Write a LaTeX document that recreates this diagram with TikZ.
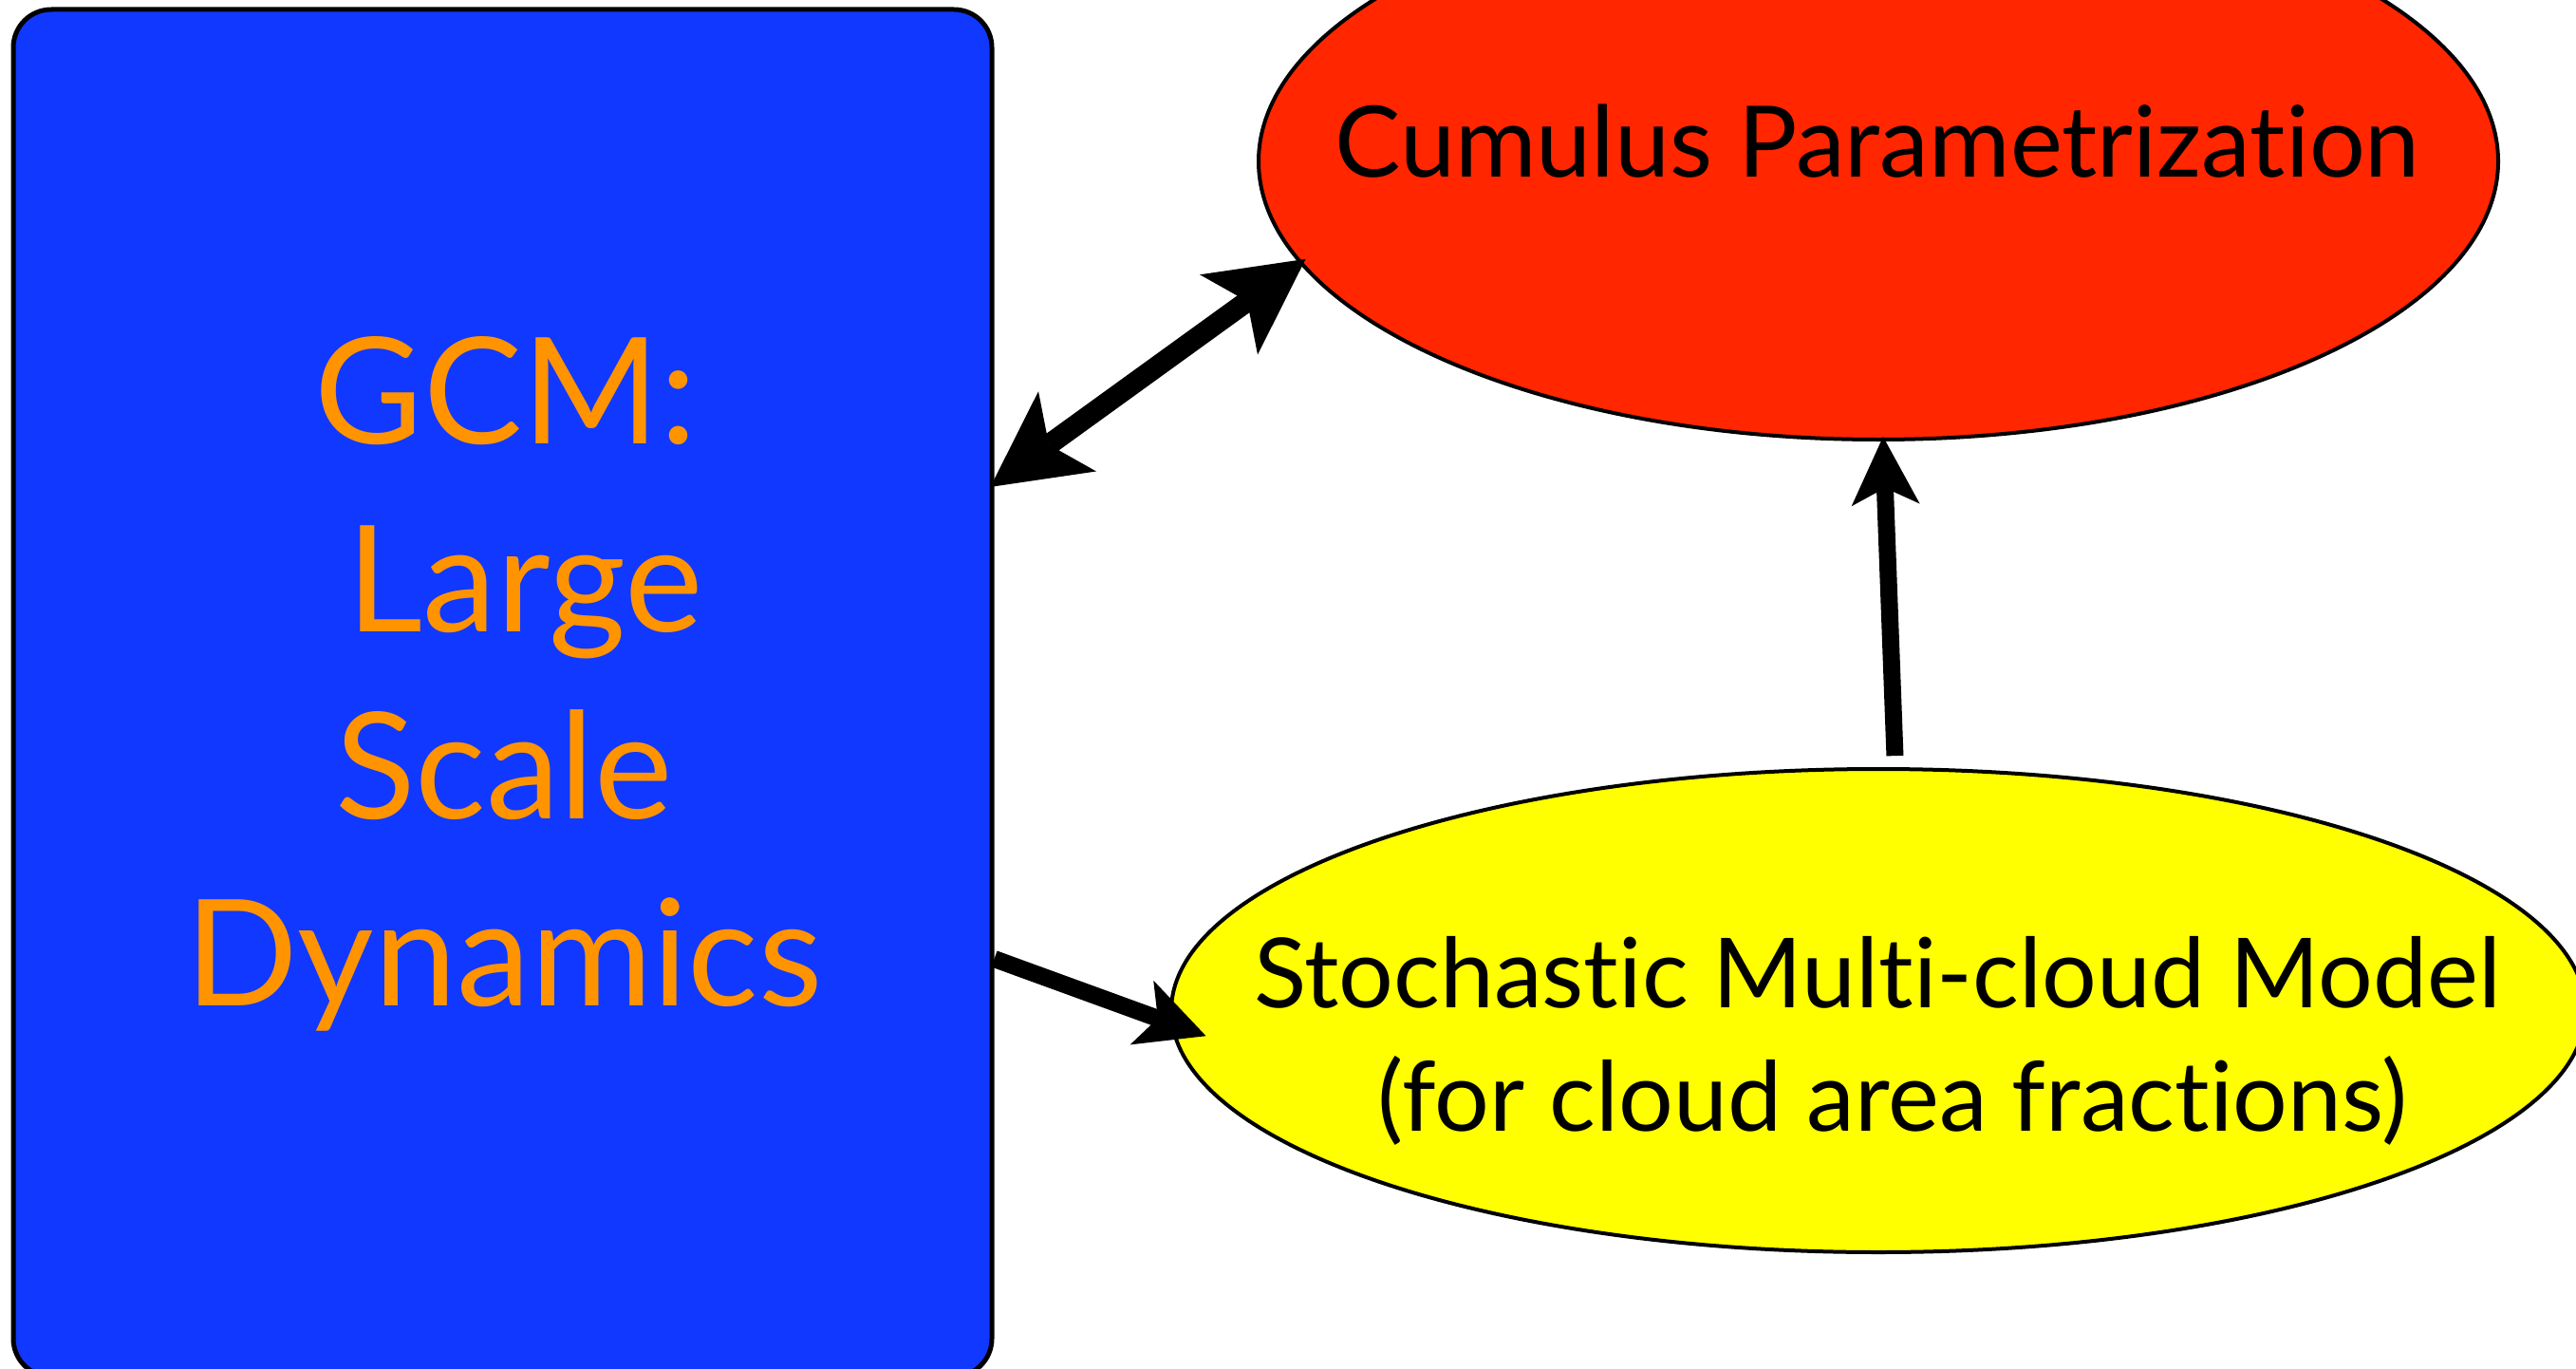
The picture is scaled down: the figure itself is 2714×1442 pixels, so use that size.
\documentclass[tikz,border=0pt]{standalone}
\usepackage{fontspec}
\setmainfont{Lato}[Ligatures=NoCommon]
\usetikzlibrary{shapes.geometric,arrows.meta}
\definecolor{gcmblue}{RGB}{17,56,255}
\definecolor{cumred}{RGB}{255,38,0}
\definecolor{smyellow}{RGB}{255,255,0}
\definecolor{gcmorange}{RGB}{255,147,0}
\begin{document}
\begin{tikzpicture}[x=1pt,y=-1pt,
  box/.style={draw=black,line width=5pt,fill=gcmblue,rounded corners=40pt,
    minimum width=1031pt,minimum height=1440pt,inner sep=0pt},
  oval/.style={ellipse,draw=black,line width=4pt,inner sep=0pt},
  gcmtxt/.style={text=gcmorange,font=\fontsize{156}{190}\selectfont,anchor=base,inner sep=0pt},
  redtxt/.style={text=black,font=\fontsize{104}{125}\selectfont,anchor=base,inner sep=0pt},
  yeltxt/.style={text=black,font=\fontsize{102}{124}\selectfont,anchor=base,inner sep=0pt},
  tip/.tip={Stealth[length=72pt,width=72pt,inset=18pt,line width=0pt]},
  bigtip/.tip={Stealth[length=100pt,width=104pt,inset=24pt,line width=0pt]},
  conn/.style={line width=18pt,-tip},
  dblconn/.style={line width=22pt,bigtip-bigtip},
]
\useasboundingbox (0,0) rectangle (2714,1442);
\clip (0,0) rectangle (2714,1442);
% shapes
\node[box] (gcm) at (529.5,730) {};
\node[oval,fill=cumred,minimum width=1306pt,minimum height=586pt] (cum) at (1979,170) {};
\node[oval,fill=smyellow,minimum width=1490pt,minimum height=509pt] (smcm) at (1979,1064.5) {};
% texts
\node[gcmtxt] (g1) at (533,467) {GCM:};
\node[gcmtxt] (g2) at (553,665) {Large};
\node[gcmtxt] (g3) at (531,862) {Scale};
\node[gcmtxt] (g4) at (531,1059) {Dynamics};
\node[redtxt] (c1) at (1978,187) {Cumulus Parametrization};
\node[yeltxt] (s1) at (1978,1061) {Stochastic Multi-cloud Model};
\node[yeltxt] (s2) at (1994,1191) {(for cloud area fractions)};
% connectors
\draw[dblconn,shorten <=-5pt,shorten >=-8pt] (gcm.east |- 0,510) -- (cum.190);
\draw[conn,shorten <=12pt,shorten >=-5pt] (smcm.86) -- (cum.271);
\draw[conn,shorten >=-40pt] (gcm.east |- 0,1010) -- (smcm.181);
\end{tikzpicture}
\end{document}
